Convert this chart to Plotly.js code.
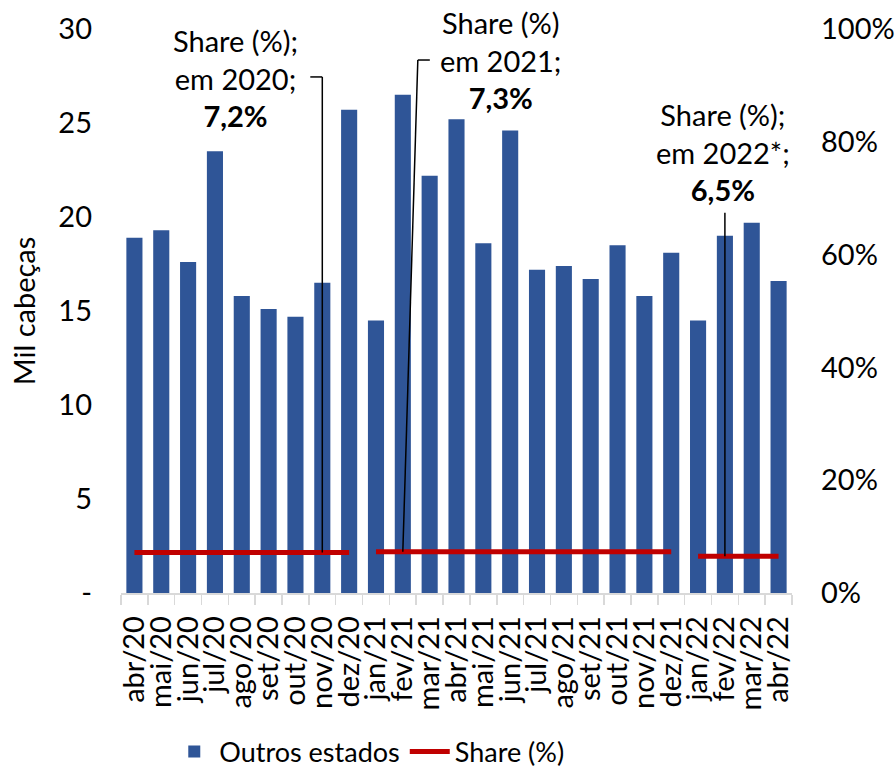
<!DOCTYPE html>
<html>
<head>
<meta charset="utf-8">
<script src="https://cdn.plot.ly/plotly-3.0.1.min.js"></script>
<style>
  html, body { margin: 0; padding: 0; background: #fff; }
  #chart { width: 896px; height: 768px; }
</style>
</head>
<body>
<div id="chart"></div>
<script>
// meses do eixo x
const months = ['abr/20', 'mai/20', 'jun/20', 'jul/20', 'ago/20', 'set/20', 'out/20', 'nov/20', 'dez/20',
  'jan/21', 'fev/21', 'mar/21', 'abr/21', 'mai/21', 'jun/21', 'jul/21', 'ago/21', 'set/21', 'out/21', 'nov/21', 'dez/21',
  'jan/22', 'fev/22', 'mar/22', 'abr/22'];

// Outros estados (mil cabeças)
const outrosEstados = [18.9, 19.3, 17.6, 23.5, 15.8, 15.1, 14.7, 16.5, 25.7,
  14.5, 26.5, 22.2, 25.2, 18.6, 24.6, 17.2, 17.4, 16.7, 18.5, 15.8, 18.1,
  14.5, 19.0, 19.7, 16.6];

// share anual (%)
const shareYears = ['20', '21', '22'];
const shareValues = [7.2, 7.3, 6.5];
const shareLabels = ['Share (%);<br>em 2020;<br><b>7,2%</b>', 'Share (%)<br>em 2021;<br><b>7,3%</b>', 'Share (%);<br>em 2022*;<br><b>6,5%</b>'];
const leaderMonths = ['nov/20', 'fev/21', 'fev/22'];

// eixos
const leftTicks = [0, 5, 10, 15, 20, 25, 30];
const leftTickText = ['-', '5', '10', '15', '20', '25', '30'];
const rightTicks = [0, 20, 40, 60, 80, 100];
const rightTickText = ['0%', '20%', '40%', '60%', '80%', '100%'];

const FONT = 'Lato, "Open Sans", sans-serif';
const FS = 29;
const BLUE = '#2F5597';
const RED = '#C00000';

const traces = [{
  type: 'bar',
  name: 'Outros estados',
  x: months,
  y: outrosEstados,
  marker: { color: BLUE },
  hoverinfo: 'x+y'
}];

shareYears.forEach((yr, i) => {
  const xs = months.filter(m => m.endsWith('/' + yr));
  traces.push({
    type: 'scatter',
    mode: 'lines',
    name: 'Share (%)',
    legendgroup: 'share',
    showlegend: i === 0,
    x: xs,
    y: xs.map(() => shareValues[i]),
    yaxis: 'y2',
    line: { color: RED, width: 5 }
  });
});

// posição dos textos (paper) e topo das linhas de chamada (em % do eixo direito)
const labelPos = [
  { x: 0.170, y: 0.913 },
  { x: 0.565, y: 0.945 },
  { x: 0.897, y: 0.782 }
];
const leaderTop = [91.5, 94.5, 67.4];

const annotations = shareLabels.map((t, i) => ({
  xref: 'paper', yref: 'paper',
  x: labelPos[i].x, y: labelPos[i].y,
  xanchor: 'center', yanchor: 'middle',
  text: t,
  showarrow: false,
  font: { family: FONT, size: FS, color: '#000' }
}));

const shapes = [];
// 2020: vertical + tracinho horizontal
shapes.push({ type: 'line', xref: 'x', yref: 'y2', xsizemode: 'pixel', xanchor: leaderMonths[0],
  x0: 0, x1: 0, y0: shareValues[0], y1: leaderTop[0], line: { color: '#000', width: 1.5 } });
shapes.push({ type: 'line', xref: 'x', yref: 'y2', xsizemode: 'pixel', xanchor: leaderMonths[0],
  x0: -12, x1: 0, y0: leaderTop[0], y1: leaderTop[0], line: { color: '#000', width: 1.5 } });
// 2021: inclinada + tracinho
shapes.push({ type: 'line', xref: 'x', yref: 'y2', xsizemode: 'pixel', xanchor: leaderMonths[1],
  x0: 0, x1: 15, y0: shareValues[1], y1: leaderTop[1], line: { color: '#000', width: 1.5 } });
shapes.push({ type: 'line', xref: 'x', yref: 'y2', xsizemode: 'pixel', xanchor: leaderMonths[1],
  x0: 15, x1: 27, y0: leaderTop[1], y1: leaderTop[1], line: { color: '#000', width: 1.5 } });
// 2022: vertical
shapes.push({ type: 'line', xref: 'x', yref: 'y2', xsizemode: 'pixel', xanchor: leaderMonths[2],
  x0: 0, x1: 0, y0: shareValues[2], y1: leaderTop[2], line: { color: '#000', width: 1.5 } });

const layout = {
  width: 896,
  height: 768,
  margin: { l: 121, r: 104, t: 29, b: 175 },
  paper_bgcolor: '#fff',
  plot_bgcolor: '#fff',
  font: { family: FONT, size: FS, color: '#000' },
  bargap: 0.4,
  showlegend: true,
  legend: {
    orientation: 'h',
    xref: 'paper',
    x: 0.37, xanchor: 'center',
    yref: 'container',
    y: 0.021, yanchor: 'middle',
    font: { family: FONT, size: 27, color: '#000' },
    itemwidth: 40,
    traceorder: 'normal'
  },
  xaxis: {
    type: 'category',
    tickmode: 'linear',
    tick0: 0,
    dtick: 1,
    tickangle: -90,
    showgrid: false,
    zeroline: false,
    showline: true,
    linecolor: '#d9d9d9',
    linewidth: 1.5,
    ticks: 'outside',
    tickson: 'boundaries',
    ticklen: 10,
    tickcolor: '#d9d9d9',
    tickwidth: 1.5,
    ticklabelstandoff: 10,
    tickfont: { family: FONT, size: FS, color: '#000' },
    automargin: false
  },
  yaxis: {
    range: [0, 30],
    tickvals: leftTicks,
    ticktext: leftTickText,
    showgrid: false,
    zeroline: false,
    showline: false,
    ticks: '',
    ticklabelstandoff: 28,
    tickfont: { family: FONT, size: FS, color: '#000' },
    title: { text: 'Mil cabeças', font: { family: FONT, size: FS, color: '#000' }, standoff: 14 },
    automargin: false
  },
  yaxis2: {
    overlaying: 'y',
    side: 'right',
    range: [0, 100],
    tickvals: rightTicks,
    ticktext: rightTickText,
    showgrid: false,
    zeroline: false,
    showline: false,
    ticks: '',
    ticklabelstandoff: 28,
    tickfont: { family: FONT, size: FS, color: '#000' },
    automargin: false
  },
  annotations: annotations,
  shapes: shapes
};

Plotly.newPlot('chart', traces, layout, { displayModeBar: false, staticPlot: true });
</script>
</body>
</html>
